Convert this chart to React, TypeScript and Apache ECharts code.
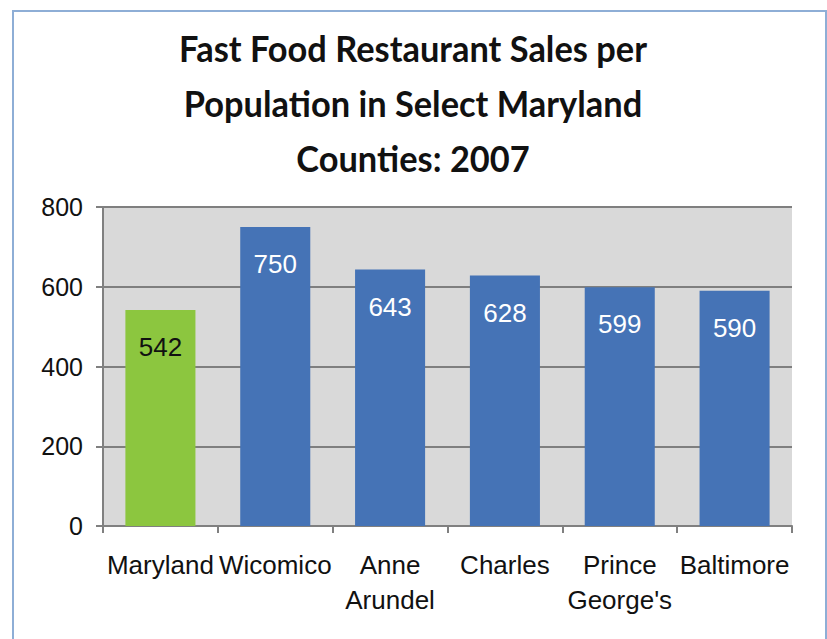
import React, { useEffect, useRef } from "react";
import * as echarts from "echarts";

const titleLines = ["Fast Food Restaurant Sales per", "Population in Select Maryland", "Counties: 2007"];
const categories = ["Maryland", "Wicomico", "Anne\nArundel", "Charles", "Prince\nGeorge's", "Baltimore"];
const values = [542, 750, 643, 628, 599, 590];
const yTicks = { min: 0, max: 800, interval: 200 };

const GREEN = "#8CC63F";
const BLUE = "#4573B6";
const SANS = "'Liberation Sans', Arial, sans-serif";

export default function App() {
  const ref = useRef<HTMLDivElement>(null);
  useEffect(() => {
    if (!ref.current) return;
    const chart = echarts.init(ref.current, null, { renderer: "svg" });
    chart.setOption({
      animation: false,
      backgroundColor: "#ffffff",
      graphic: [
        {
          type: "rect",
          shape: { x: 13, y: 11, width: 813, height: 640 },
          style: { fill: "none", stroke: "#8EAED6", lineWidth: 2 },
          silent: true,
        },
        {
          type: "text",
          x: 413,
          y: 21,
          scaleX: 0.93,
          style: {
            text: titleLines.join("\n"),
            x: 0,
            y: 0,
            align: "center",
            verticalAlign: "top",
            fontFamily: "Lato",
            fontWeight: "bold",
            fontSize: 37,
            lineHeight: 55,
            fill: "#111111",
          },
          silent: true,
        },
      ],
      grid: { left: 103, top: 207, right: 35, bottom: 113, containLabel: false,
        show: true, backgroundColor: "#D9D9D9", borderWidth: 0 },
      xAxis: {
        type: "category",
        data: categories,
        boundaryGap: true,
        axisLine: { lineStyle: { color: "#808080", width: 2 } },
        axisTick: { show: true, inside: false, length: 7, lineStyle: { color: "#808080", width: 2 } },
        axisLabel: {
          interval: 0,
          margin: 21,
          fontFamily: SANS,
          fontSize: 26,
          lineHeight: 35,
          color: "#111111",
        },
      },
      yAxis: {
        type: "value",
        min: yTicks.min,
        max: yTicks.max,
        interval: yTicks.interval,
        axisLine: { show: true, lineStyle: { color: "#808080", width: 2 } },
        axisTick: { show: true, inside: false, length: 7, lineStyle: { color: "#808080", width: 2 } },
        splitLine: { show: true, lineStyle: { color: "#7F7F7F", width: 2 } },
        axisLabel: {
          margin: 20,
          fontFamily: SANS,
          fontSize: 25,
          color: "#111111",
        },
      },
      series: [
        {
          type: "bar",
          barWidth: "61%",
          data: values.map((v, i) => ({
            value: v,
            itemStyle: { color: i === 0 ? GREEN : BLUE },
            label: { color: i === 0 ? "#111111" : "#ffffff" },
          })),
          label: {
            show: true,
            position: "insideTop",
            distance: 24,
            fontFamily: SANS,
            fontSize: 26,
          },
        },
      ],
    });
    return () => chart.dispose();
  }, []);
  return <div ref={ref} style={{ position: "absolute", left: 0, top: 0, width: 827, height: 639 }} />;
}
